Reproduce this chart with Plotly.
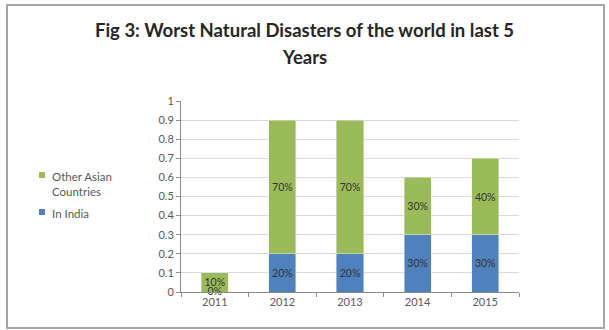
import plotly.graph_objects as go

# Worst natural disasters, share by region per year
years = ["2011", "2012", "2013", "2014", "2015"]
in_india = [0.0, 0.2, 0.2, 0.3, 0.3]
other_asian = [0.1, 0.7, 0.7, 0.3, 0.4]

title_line1 = "Fig 3: Worst Natural Disasters of the world in last 5"
title_line2 = "Years"
legend_labels = ["Other Asian<br>Countries", "In India"]

BLUE = "#4F81BD"
GREEN = "#9BBB59"
GRID = "#D9D9D9"
AXIS = "#8C8C8C"
TEXT = "#595959"
LABEL = "#333333"
FONT = "Lato"

W, H = 609, 330
L, R, T, B = 181, 90, 101, 38
plot_w = W - L - R
plot_h = H - T - B


def px_x(px):
    return (px - L) / plot_w


def px_y(py):
    return (H - B - py) / plot_h


fig = go.Figure()
fig.add_trace(go.Bar(
    x=years, y=in_india, name="In India", marker_color=BLUE,
    texttemplate="%{y:.0%}", textposition="inside", insidetextanchor="middle",
    textfont=dict(family=FONT, size=10.5, color=LABEL),
))
fig.add_trace(go.Bar(
    x=years, y=other_asian, name="Other Asian Countries", marker_color=GREEN,
    texttemplate="%{y:.0%}", textposition="inside", insidetextanchor="middle",
    textfont=dict(family=FONT, size=10.5, color=LABEL),
))

# zero-height segments still carry their label on the baseline
zero_x = [yr for yr, v in zip(years, in_india) if v == 0]
zero_y = [v for v in in_india if v == 0]
fig.add_trace(go.Scatter(
    x=zero_x, y=zero_y, mode="text", text=[f"{v:.0%}" for v in zero_y],
    textposition="middle center", textfont=dict(family=FONT, size=10.5, color=LABEL),
    hoverinfo="skip", cliponaxis=False,
))

annotations = [dict(
    x=px_x(W / 2), y=px_y(57), xref="paper", yref="paper",
    text=f"<b>{title_line2}</b>", showarrow=False,
    font=dict(family=FONT, size=18.5, color="#262626"),
    xanchor="center", yanchor="middle",
)]

# legend
legend_items = [(legend_labels[0], GREEN, 175), (legend_labels[1], BLUE, 212)]
shapes = []
for label, col, cy in legend_items:
    shapes.append(dict(
        type="rect", xref="paper", yref="paper",
        x0=px_x(39), x1=px_x(45), y0=px_y(cy + 3), y1=px_y(cy - 3),
        fillcolor=col, line=dict(width=0),
    ))
    annotations.append(dict(
        x=px_x(50), y=px_y(cy - 7), xref="paper", yref="paper", text=label,
        showarrow=False, xanchor="left", yanchor="top", align="left",
        font=dict(family=FONT, size=11.5, color=TEXT),
    ))

# outer chart frame
shapes.append(dict(
    type="rect", xref="paper", yref="paper",
    x0=px_x(7), x1=px_x(604), y0=px_y(328), y1=px_y(5),
    line=dict(color="#A6A6A6", width=2), layer="below",
))

fig.update_layout(
    width=W, height=H,
    margin=dict(l=L, r=R, t=T, b=B),
    paper_bgcolor="white", plot_bgcolor="white",
    barmode="stack", bargap=0.6,
    title=dict(
        text=f"<b>{title_line1}</b>", x=0.5, xref="container", xanchor="center",
        y=1 - 31 / H, yref="container", yanchor="middle",
        font=dict(family=FONT, size=18.5, color="#262626"),
    ),
    xaxis=dict(
        type="category", categoryorder="array", categoryarray=years,
        range=[-0.5, len(years) - 0.5],
        showline=True, linecolor=AXIS, linewidth=1,
        ticks="outside", tickson="boundaries", ticklen=4, tickcolor=AXIS,
        tickfont=dict(family=FONT, size=11, color=TEXT), showgrid=False,
    ),
    yaxis=dict(
        range=[0, 1], dtick=0.1, showline=True, linecolor=AXIS, linewidth=1,
        ticks="outside", ticklen=4, tickcolor=AXIS, gridcolor=GRID, gridwidth=1,
        tickfont=dict(family=FONT, size=11, color=TEXT), zeroline=False,
    ),
    showlegend=False,
    annotations=annotations,
    shapes=shapes,
)

fig.write_html("out.html")
